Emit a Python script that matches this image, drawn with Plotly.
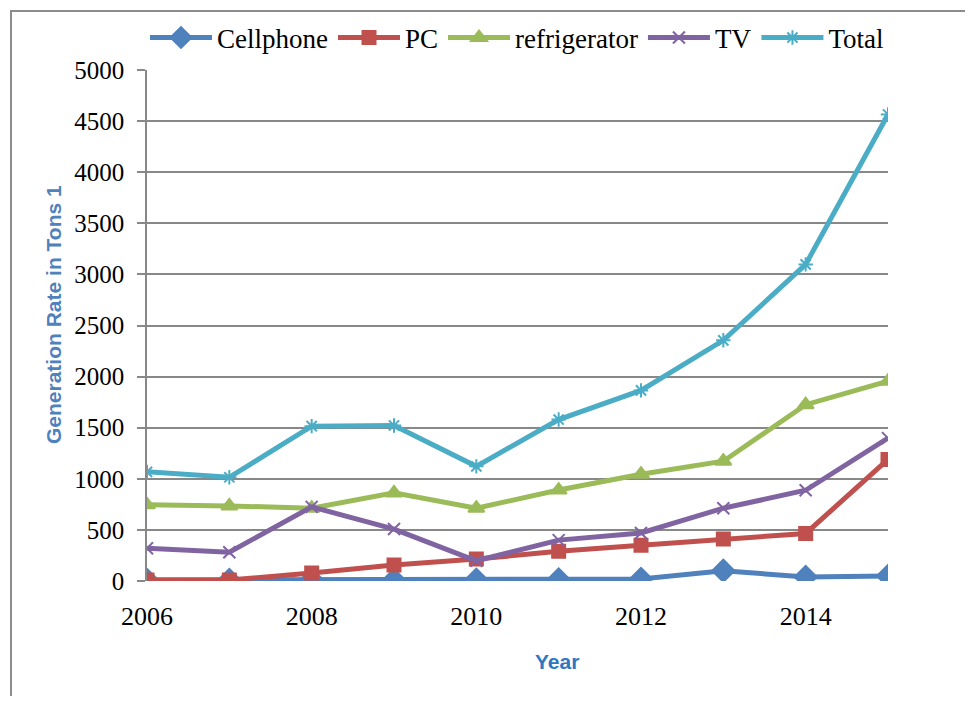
import plotly.graph_objects as go

years = [2006, 2007, 2008, 2009, 2010, 2011, 2012, 2013, 2014, 2015]
cellphone = [10, 10, 15, 10, 12, 15, 20, 100, 40, 50]
pc = [10, 10, 78, 157, 215, 290, 350, 410, 465, 1190]
refrigerator = [745, 735, 712, 862, 712, 890, 1045, 1172, 1725, 1955]
tv = [320, 282, 725, 508, 198, 400, 470, 712, 888, 1398]
total = [1068, 1015, 1515, 1522, 1122, 1580, 1865, 2355, 3098, 4565]

x_ticks = [2006, 2008, 2010, 2012, 2014]
y_ticks = [0, 500, 1000, 1500, 2000, 2500, 3000, 3500, 4000, 4500, 5000]

series = [
    ("Cellphone", cellphone, "#4F81BD", "diamond", 17),
    ("PC", pc, "#C0504D", "square", 13),
    ("refrigerator", refrigerator, "#9BBB59", "triangle-up", 14),
    ("TV", tv, "#8064A2", "x-thin", 12),
    ("Total", total, "#4BACC6", "asterisk", 12),
]

fig = go.Figure()
for name, vals, color, sym, size in series:
    fig.add_trace(go.Scatter(
        x=years, y=vals, name=name, mode="lines+markers",
        line=dict(color=color, width=5),
        marker=dict(symbol=sym, size=size, color=color,
                    line=dict(color=color, width=2)),
    ))

OFF = 8  # page body margin
W, H = 973 - 2 * OFF, 704 - 2 * OFF
# target pixel positions in the screenshot
L, R, T, B = 147, 888, 70, 581
Lf, Rf, Tf, Bf = L - OFF, R - OFF, T - OFF, B - OFF

fig.update_layout(
    width=W, height=H,
    margin=dict(l=Lf, r=W - Rf, t=Tf, b=H - Bf, autoexpand=False),
    paper_bgcolor="white", plot_bgcolor="white",
    font=dict(family="Liberation Serif, Times New Roman, serif", size=25, color="black"),
    showlegend=True,
    legend=dict(orientation="h", x=(517 - L) / (R - L), xanchor="center",
                y=(B - 38) / (B - T), yanchor="middle",
                font=dict(size=27), itemwidth=62, tracegroupgap=0,
                bgcolor="rgba(0,0,0,0)"),
    xaxis=dict(range=[2006, 2015], tickvals=x_ticks, ticktext=[str(v) for v in x_ticks],
               showgrid=False, zeroline=False, showline=False, ticks="",
               ticklabelstandoff=17,
               tickfont=dict(size=26)),
    yaxis=dict(range=[0, 5000], tickvals=y_ticks, showgrid=True, gridcolor="#888888", gridwidth=1.5,
               zeroline=False, showline=True, linecolor="#888888", linewidth=1.5,
               ticks="outside", ticklen=8, tickcolor="#888888", tickwidth=1.5,
               tickfont=dict(size=25), ticklabelstandoff=8),
)

def px_x(p):
    return (p - L) / (R - L)

def px_y(p):
    return (B - p) / (B - T)

# outer frame lines (top and left)
fig.add_shape(type="line", xref="paper", yref="paper", x0=px_x(10), x1=px_x(980), y0=px_y(11), y1=px_y(11),
              line=dict(color="#8c8c8c", width=2))
fig.add_shape(type="line", xref="paper", yref="paper", x0=px_x(11), x1=px_x(11), y0=px_y(10), y1=px_y(710),
              line=dict(color="#8c8c8c", width=2))

fig.add_annotation(text="<b>Year</b>", xref="paper", yref="paper", x=px_x(557), y=px_y(661),
                   showarrow=False, font=dict(family="Liberation Sans, Arial, sans-serif", size=21, color="#2E78C2"),
                   xanchor="center", yanchor="middle")
fig.add_annotation(text="<b>Generation Rate in Tons 1</b>", xref="paper", yref="paper", x=px_x(53), y=px_y(315),
                   showarrow=False, textangle=-90,
                   font=dict(family="Liberation Sans, Arial, sans-serif", size=21, color="#4F81BD"),
                   xanchor="center", yanchor="middle")

fig.write_html("out.html")
